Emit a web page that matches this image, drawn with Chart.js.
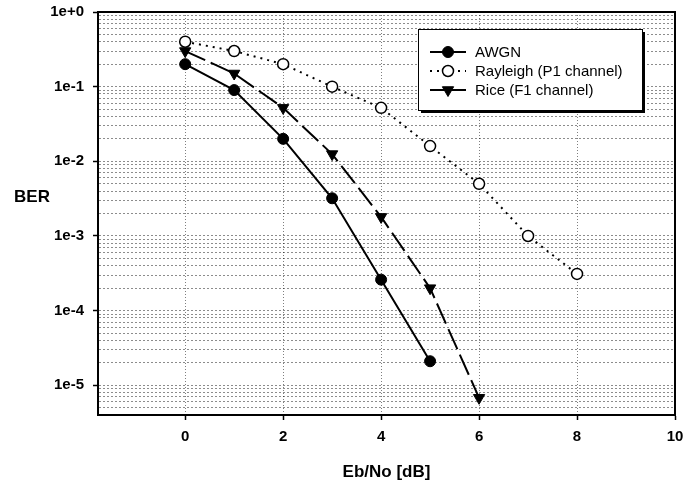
<!DOCTYPE html>
<html>
<head>
<meta charset="utf-8">
<script src="https://cdn.jsdelivr.net/npm/chart.js@4/dist/chart.umd.min.js"></script>
<style>
  html, body { margin: 0; padding: 0; background: #fff; }
  #wrap { position: relative; width: 683px; height: 484px; }
</style>
</head>
<body>
<div id="wrap"><canvas id="berChart"></canvas></div>
<script>
// Eb/No points (dB) and measured bit error rates per channel
const ebNo = [0, 1, 2, 3, 4, 5, 6, 7, 8];
const berAwgn = [0.2, 0.09, 0.02, 0.0032, 0.00026, 0.000021];
const berRayleigh = [0.4, 0.3, 0.2, 0.1, 0.052, 0.016, 0.005, 0.001, 0.00031];
const berRice = [0.3, 0.15, 0.052, 0.0125, 0.0018, 0.0002, 0.0000068];

const seriesNames = ['AWGN', 'Rayleigh (P1 channel)', 'Rice (F1 channel)'];

const xTicks = [0, 2, 4, 6, 8, 10];
const yDecades = [1, 1e-1, 1e-2, 1e-3, 1e-4, 1e-5];
const yTickLabels = ['1e+0', '1e-1', '1e-2', '1e-3', '1e-4', '1e-5'];

const toPoints = (vals) => vals.map((v, i) => ({ x: ebNo[i], y: v }));

function isDecade(v) {
  const l = Math.log10(v);
  return Math.abs(l - Math.round(l)) < 1e-9;
}

const font = "'Liberation Sans', Arial, sans-serif";

// white page, frame, inner legend and the horizontal "BER" label
const decorations = {
  id: 'decorations',
  beforeDraw(chart) {
    const ctx = chart.ctx;
    ctx.save();
    ctx.fillStyle = '#fff';
    ctx.fillRect(0, 0, chart.width, chart.height);
    ctx.restore();
  },
  afterDraw(chart) {
    const ctx = chart.ctx;
    const a = chart.chartArea;
    ctx.save();

    // plot frame
    ctx.strokeStyle = '#000';
    ctx.lineWidth = 2;
    ctx.strokeRect(a.left, a.top, a.right - a.left, a.bottom - a.top);

    // y label
    ctx.fillStyle = '#000';
    ctx.font = 'bold 17px ' + font;
    ctx.textAlign = 'center';
    ctx.textBaseline = 'middle';
    ctx.fillText('BER', a.left - 66, 197);

    // legend box with shadow
    const bx = a.left + 320, by = a.top + 17, bw = 224, bh = 81;
    ctx.fillStyle = '#000';
    ctx.fillRect(bx + 3, by + 3, bw, bh);
    ctx.fillStyle = '#fff';
    ctx.fillRect(bx, by, bw, bh);
    ctx.lineWidth = 1;
    ctx.strokeStyle = '#000';
    ctx.strokeRect(bx + 0.5, by + 0.5, bw, bh);

    chart.data.datasets.forEach((ds, i) => {
      const y = by + 23 + i * 19;
      const x0 = bx + 12, x1 = bx + 48, xm = (x0 + x1) / 2;
      ctx.save();
      ctx.strokeStyle = '#000';
      ctx.lineWidth = ds.borderWidth;
      ctx.setLineDash(i === 2 ? [] : (ds.borderDash || []));
      ctx.beginPath();
      ctx.moveTo(x0, y);
      ctx.lineTo(x1, y);
      ctx.stroke();
      ctx.setLineDash([]);
      ctx.lineWidth = ds.pointBorderWidth;
      ctx.fillStyle = ds.pointBackgroundColor;
      ctx.beginPath();
      if (ds.pointStyle === 'triangle') {
        const r = ds.pointRadius;
        ctx.moveTo(xm - r * 0.87, y - r * 0.5);
        ctx.lineTo(xm + r * 0.87, y - r * 0.5);
        ctx.lineTo(xm, y + r);
        ctx.closePath();
      } else {
        ctx.arc(xm, y, ds.pointRadius, 0, Math.PI * 2);
      }
      ctx.fill();
      ctx.stroke();
      ctx.restore();

      ctx.fillStyle = '#000';
      ctx.font = '15px ' + font;
      ctx.textAlign = 'left';
      ctx.textBaseline = 'middle';
      ctx.fillText(ds.label, bx + 57, y + 1);
    });
    ctx.restore();
  }
};

new Chart(document.getElementById('berChart'), {
  type: 'line',
  data: {
    datasets: [
      {
        label: seriesNames[0],
        data: toPoints(berAwgn),
        borderColor: '#000',
        borderWidth: 2,
        pointStyle: 'circle',
        pointRadius: 5.5,
        pointBackgroundColor: '#000',
        pointBorderColor: '#000',
        pointBorderWidth: 1
      },
      {
        label: seriesNames[1],
        data: toPoints(berRayleigh),
        borderColor: '#000',
        borderWidth: 2,
        borderDash: [2, 5],
        pointStyle: 'circle',
        pointRadius: 5.5,
        pointBackgroundColor: '#fff',
        pointBorderColor: '#000',
        pointBorderWidth: 1.5
      },
      {
        label: seriesNames[2],
        data: toPoints(berRice),
        borderColor: '#000',
        borderWidth: 2,
        borderDash: [22, 6],
        pointStyle: 'triangle',
        pointRotation: 180,
        pointRadius: 6.5,
        pointBackgroundColor: '#000',
        pointBorderColor: '#000',
        pointBorderWidth: 1
      }
    ]
  },
  options: {
    responsive: true,
    maintainAspectRatio: false,
    animation: false,
    layout: { padding: { left: 0, top: 12, right: 8, bottom: 0 } },
    plugins: {
      legend: { display: false },
      tooltip: { enabled: false }
    },
    scales: {
      x: {
        type: 'linear',
        min: -1.78,
        max: 10,
        afterBuildTicks: (scale) => {
          scale.ticks = xTicks.map(v => ({ value: v }));
        },
        afterFit: (scale) => {
          scale.height = 69;
          scale.paddingLeft = 0;
          scale.paddingRight = 0;
        },
        grid: {
          color: 'rgba(0,0,0,0.5)',
          lineWidth: 1,
          tickLength: 5,
          tickColor: '#000',
          tickWidth: 1.5,
          tickBorderDash: []
        },
        border: { display: true, color: '#000', width: 2, dash: [1, 2] },
        ticks: {
          color: '#000',
          padding: 8,
          maxRotation: 0,
          autoSkip: false,
          font: { family: font, size: 15, weight: 'bold' }
        },
        title: {
          display: true,
          text: 'Eb/No [dB]',
          color: '#000',
          padding: { top: 0, bottom: 1 },
          font: { family: font, size: 17, weight: 'bold' }
        }
      },
      y: {
        type: 'logarithmic',
        min: 4e-6,
        max: 1,
        afterBuildTicks: (scale) => {
          const ticks = [];
          for (let e = -6; e <= 0; e++) {
            for (let m = 1; m <= 9; m++) {
              const v = m * Math.pow(10, e);
              if (v >= scale.min * 0.999 && v <= scale.max * 1.001) ticks.push({ value: v });
            }
          }
          scale.ticks = ticks;
        },
        afterFit: (scale) => {
          scale.width = 98;
          scale.paddingTop = 0;
          scale.paddingBottom = 0;
        },
        grid: {
          color: 'rgba(0,0,0,0.45)',
          lineWidth: 1,
          tickLength: 5,
          tickWidth: 1.5,
          tickColor: (c) => (c.tick && isDecade(c.tick.value)) ? '#000' : 'rgba(0,0,0,0)',
          tickBorderDash: []
        },
        border: { display: true, color: '#000', width: 2, dash: [2, 2] },
        ticks: {
          color: '#000',
          padding: 9,
          autoSkip: false,
          font: { family: font, size: 15, weight: 'bold' },
          callback: (v) => {
            const idx = yDecades.findIndex(d => Math.abs(Math.log10(d) - Math.log10(v)) < 1e-9);
            return idx >= 0 ? yTickLabels[idx] : '';
          }
        }
      }
    }
  },
  plugins: [decorations]
});
</script>
</body>
</html>
